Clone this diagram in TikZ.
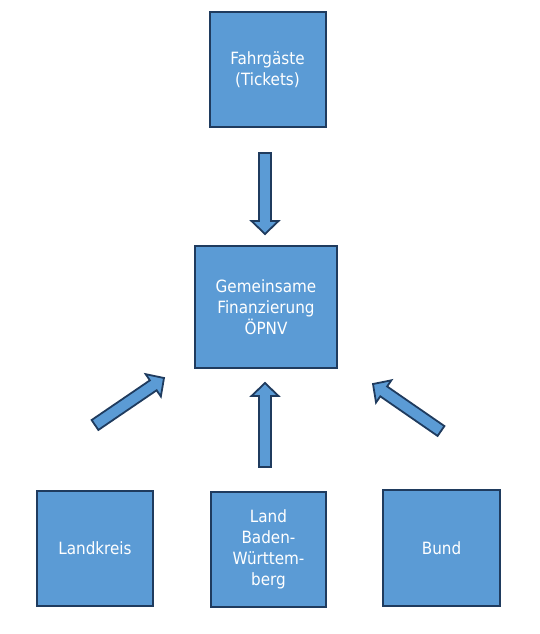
\documentclass[tikz,border=0pt]{standalone}
\usepackage{fontspec}
\setmainfont{DejaVu Sans Condensed}
\usetikzlibrary{calc}
\definecolor{boxfill}{HTML}{5B9BD5}
\definecolor{boxline}{HTML}{1F3B5E}
\tikzset{
  box/.style={draw=boxline, fill=boxfill, line width=2pt, text=white, align=center,
    inner sep=0pt, font=\fontsize{16.9}{20.8}\selectfont},
  barrow/.style={draw=boxline, fill=boxfill, line width=1.8pt, line join=miter}
}
\newcommand\blockarrow[2]{%
  \path ($(#2)!13pt!(#1)$) coordinate (hb);
  \draw[barrow] ($(#1)!6pt!90:(#2)$) -- ($(hb)!6pt!90:(#2)$) -- ($(hb)!13.5pt!90:(#2)$)
    -- (#2) -- ($(hb)!13.5pt!-90:(#2)$) -- ($(hb)!6pt!-90:(#2)$) -- ($(#1)!6pt!-90:(#2)$) -- cycle;}
\begin{document}
\begin{tikzpicture}[x=1pt,y=-1pt]
\useasboundingbox (0,0) rectangle (540,634);
\node[box, minimum width=116pt, minimum height=115pt] (fahr) at (267.5,69.5) {Fahrgäste\\(Tickets)};
\node[box, minimum width=142pt, minimum height=122pt] (fin) at (266,307) {Gemeinsame\\Finanzierung\\ÖPNV};
\node[box, minimum width=116pt, minimum height=115pt] (lk) at (95,548.5) {Landkreis};
\node[box, minimum width=115pt, minimum height=115pt] (land) at (268.5,549.5) {Land\\Baden-\\Württem-\\berg};
\node[box, minimum width=117pt, minimum height=116pt] (bund) at (441.5,548) {Bund};
\coordinate (a1s) at (265,153); \coordinate (a1e) at (265,234);
\coordinate (a2s) at (265,467); \coordinate (a2e) at (265,383);
\coordinate (a3s) at (95,425);  \coordinate (a3e) at (164,378);
\coordinate (a4s) at (441,431); \coordinate (a4e) at (373,384);
\blockarrow{a1s}{a1e}
\blockarrow{a2s}{a2e}
\blockarrow{a3s}{a3e}
\blockarrow{a4s}{a4e}
\end{tikzpicture}
\end{document}
